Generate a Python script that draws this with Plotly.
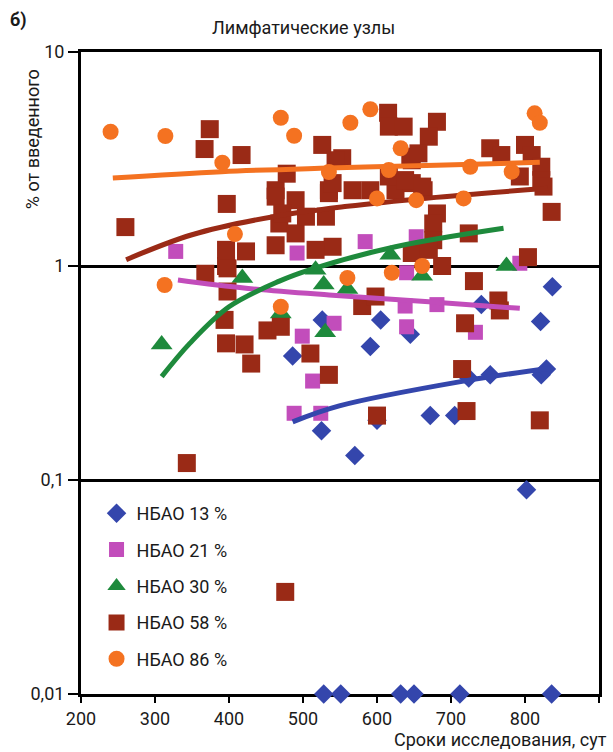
import plotly.graph_objects as go

# ---------------- data ----------------
x13 = [837, 821, 605, 591, 645, 741, 672, 705, 600, 570, 724, 753, 822, 829, 525, 486, 526, 802,
       528, 551, 632, 650, 712, 836]
y13 = [0.80, 0.55, 0.56, 0.42, 0.48, 0.66, 0.20, 0.20, 0.19, 0.13, 0.30, 0.31, 0.31, 0.33, 0.17, 0.38, 0.56, 0.09,
       0.01, 0.01, 0.01, 0.01, 0.01, 0.01]

x21 = [328, 492, 584, 653, 640, 793, 542, 638, 640, 681, 733, 499, 513, 488, 524]
y21 = [1.17, 1.15, 1.30, 1.37, 0.93, 1.03, 0.54, 0.65, 0.52, 0.66, 0.49, 0.47, 0.29, 0.205, 0.205]

x30 = [309, 418, 470, 530, 528, 517, 618, 661, 775, 560]
y30 = [0.43, 0.88, 0.60, 0.49, 0.82, 0.96, 1.13, 0.90, 1.00, 0.78]

x58 = [374, 367, 417, 526, 397, 260, 463, 478, 468, 490, 396, 423, 396, 463, 535,
       553, 615, 616, 636, 681, 670, 645, 463, 490, 535, 540, 531, 504, 472, 540, 517,
       591, 567, 625, 616, 647, 663, 681, 676, 676, 647,
       753, 768, 800, 809, 822, 822, 825, 836, 793, 724, 670, 688, 804, 731,
       544, 647, 656, 638, 661,
       764, 766, 580, 598, 719, 535, 715, 600, 721, 820,
       368, 398, 398, 394, 396, 421, 430, 452, 470, 510, 343, 476]
y58 = [4.36, 3.52, 3.30, 3.68, 1.95, 1.52, 2.26, 2.70, 1.58, 1.42, 1.19, 1.17, 1.00, 1.25, 2.26,
       3.19, 5.20, 4.48, 4.48, 4.72, 4.02, 3.24, 2.11, 2.03, 2.19, 2.44, 1.70, 1.70, 1.76, 1.23, 1.19,
       2.26, 2.26, 2.26, 2.62, 2.44, 2.26, 1.76, 1.58, 1.32, 1.15,
       3.55, 3.30, 3.68, 3.30, 2.91, 2.52, 2.35, 1.79, 2.62, 1.42, 1.19, 1.00, 1.10, 0.85,
       3.12, 3.12, 3.36, 2.52, 2.35,
       0.69, 0.62, 0.65, 0.72, 0.54, 0.31, 0.33, 0.20, 0.21, 0.19,
       0.92, 0.975, 0.76, 0.56, 0.435, 0.43, 0.35, 0.50, 0.52, 0.39, 0.12, 0.03]

x86 = [240, 314, 470, 488, 391, 408, 313, 470, 591, 564, 632, 813, 820, 535, 616, 726, 782,
       600, 653, 717, 560, 620, 661]
y86 = [4.24, 4.05, 4.93, 4.06, 3.04, 1.41, 0.815, 0.645, 5.40, 4.67, 3.55, 5.17, 4.67, 2.75, 2.81, 2.91, 2.76,
       2.07, 2.03, 2.07, 0.88, 0.93, 1.00]

# trend lines
t13_x = [486, 549, 715, 834]
t13_y = [0.187, 0.222, 0.289, 0.333]
t21_x = [331, 423, 535, 670, 793]
t21_y = [0.86, 0.787, 0.732, 0.681, 0.634]
t30_x = [309, 347, 400, 468, 513, 625, 771]
t30_y = [0.304, 0.435, 0.645, 0.85, 0.97, 1.23, 1.50]
t58_x = [261, 350, 460, 560, 670, 831]
t58_y = [1.07, 1.40, 1.70, 1.90, 2.08, 2.31]
t86_x = [243, 390, 535, 680, 820]
t86_y = [2.58, 2.76, 2.87, 2.96, 3.05]

names = ["НБАО 13 %", "НБАО 21 %", "НБАО 30 %", "НБАО 58 %", "НБАО 86 %"]
y_tickvals = [0.01, 0.1, 1, 10]
y_ticktext = ["0,01", "0,1", "1", "10"]
x_tickvals = [200, 300, 400, 500, 600, 700, 800, 900]

C13, C21, C30, C58, C86 = "#3446ac", "#c24dbb", "#1e8a3c", "#9a2a16", "#f47221"
FONT = "Roboto, Open Sans, sans-serif"
FS = 18

fig = go.Figure()

def pts(x, y, name, color, symbol, size, group):
    fig.add_trace(go.Scatter(x=x, y=y, mode="markers", name=name, legendgroup=group,
                             marker=dict(color=color, symbol=symbol, size=size, line=dict(width=0)),
                             cliponaxis=False))

def trend(x, y, color, group):
    fig.add_trace(go.Scatter(x=x, y=y, mode="lines", showlegend=False, legendgroup=group,
                             line=dict(color=color, width=5, shape="spline"), hoverinfo="skip"))

pts(x13, y13, names[0], C13, "diamond", 15, "g13")
pts(x21, y21, names[1], C21, "square", 15, "g21")
pts(x30, y30, names[2], C30, "triangle-up", 19, "g30")
pts(x58, y58, names[3], C58, "square", 18, "g58")
trend(t13_x, t13_y, C13, "g13")
trend(t21_x, t21_y, C21, "g21")
trend(t30_x, t30_y, C30, "g30")
trend(t58_x, t58_y, C58, "g58")
pts(x86, y86, names[4], C86, "circle", 16, "g86")
trend(t86_x, t86_y, C86, "g86")

fig.update_layout(
    width=613, height=752,
    margin=dict(l=81, r=11, t=52, b=58),
    paper_bgcolor="white", plot_bgcolor="white",
    font=dict(family=FONT, size=FS, color="#1a1a1a"),
    showlegend=True,
    legend=dict(x=0.03, y=0.31, xanchor="left", yanchor="top", bgcolor="rgba(0,0,0,0)",
                font=dict(size=FS), tracegroupgap=10, itemsizing="trace"),
    xaxis=dict(range=[200, 900], tickvals=x_tickvals, ticks="outside", ticklen=6, tickwidth=2,
               tickcolor="black", showline=True, linecolor="black", linewidth=3, mirror=True,
               showgrid=False, zeroline=False, layer="below traces"),
    yaxis=dict(type="log", range=[-2, 1], tickvals=y_tickvals, ticktext=y_ticktext,
               ticks="outside", ticklen=10, tickwidth=2, tickcolor="black",
               showline=True, linecolor="black", linewidth=3, mirror=True,
               showgrid=True, gridcolor="black", gridwidth=2.5, zeroline=False, layer="below traces"),
    annotations=[
        dict(text="Лимфатические узлы", xref="paper", yref="paper", x=0.43, y=1.0 + 24/642,
             xanchor="center", yanchor="middle", showarrow=False, font=dict(size=FS)),
        dict(text="<b>б)</b>", xref="paper", yref="paper", x=-(81-8)/520, y=1.0 + 32/642,
             xanchor="left", yanchor="middle", showarrow=False, font=dict(size=FS)),
        dict(text="% от введенного", xref="paper", yref="paper", x=-(81-33)/520, y=(694-139)/642,
             xanchor="center", yanchor="middle", textangle=-90, showarrow=False, font=dict(size=FS)),
        dict(text="Сроки исследования, сут", xref="paper", yref="paper", x=(611-81)/520, y=-(740-694)/642,
             xanchor="right", yanchor="middle", showarrow=False, font=dict(size=FS)),
    ],
)

fig.write_html("out.html")
